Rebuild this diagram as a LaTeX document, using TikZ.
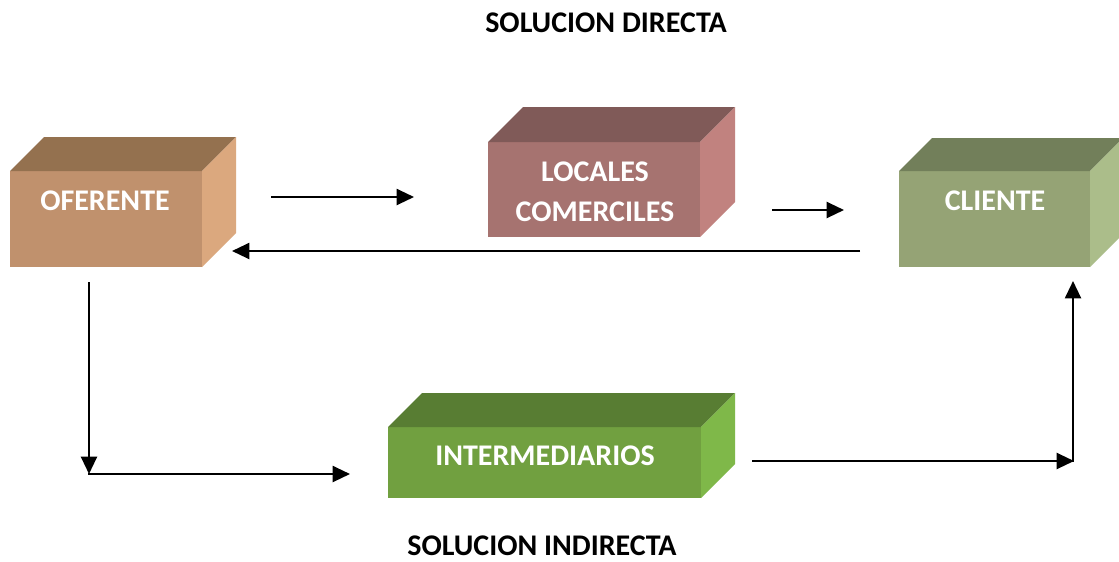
\documentclass[tikz,border=0pt]{standalone}
\usepackage{fontspec}
\setmainfont{Carlito}
\usetikzlibrary{arrows.meta}
\definecolor{ofeF}{HTML}{C0916D}\definecolor{ofeT}{HTML}{94714F}\definecolor{ofeS}{HTML}{DBA87E}
\definecolor{locF}{HTML}{A67370}\definecolor{locT}{HTML}{805A58}\definecolor{locS}{HTML}{C1827F}
\definecolor{cliF}{HTML}{95A375}\definecolor{cliT}{HTML}{727F5A}\definecolor{cliS}{HTML}{ABBD8A}
\definecolor{intF}{HTML}{71A040}\definecolor{intT}{HTML}{587D33}\definecolor{intS}{HTML}{7FB849}
\tikzset{
  face/.style={inner sep=0pt, outer sep=0pt, anchor=north west},
  boxtext/.style={text=white, font=\fontsize{22.5}{30}\selectfont\bfseries, align=center, inner sep=0pt},
  title/.style={text=black, font=\fontsize{22.5}{26}\selectfont\bfseries, inner sep=0pt},
  conn/.style={line width=1.6pt, -{Triangle[length=13pt,width=12pt]}},
}
% #1 name, #2 x, #3 y, #4 width, #5 height, #6 depth, #7 front, #8 top, #9 side
\newcommand\mycuboid[9]{%
  \node[face, fill=#7, minimum width=#4*0.75pt, minimum height=#5*0.75pt] (#1) at (#2,#3) {};
  \fill[#8] (#1.north west) -- ++(#6,-#6) -- ++(#4,0) -- (#1.north east) -- cycle;
  \fill[#9] (#1.north east) -- ++(#6,-#6) -- ++(0,#5) -- (#1.south east) -- cycle;
}
\begin{document}
\begin{tikzpicture}[x=0.75pt,y=-0.75pt]
\useasboundingbox (0,0) rectangle (1119,561);
\clip (0,0) rectangle (1119,561);
\fill[white] (0,0) rectangle (1119,561);

\mycuboid{ofe}{10}{171}{192}{96}{34}{ofeF}{ofeT}{ofeS}
\mycuboid{loc}{488}{142}{212}{95}{35}{locF}{locT}{locS}
\mycuboid{cli}{899}{171}{191}{96}{33}{cliF}{cliT}{cliS}
\mycuboid{int}{388}{427}{313}{71}{34}{intF}{intT}{intS}

\node[boxtext] (tofe) at (105,201) {OFERENTE};
\node[boxtext] (tloc) at (595,192) {LOCALES\\COMERCILES};
\node[boxtext] (tcli) at (995,201) {CLIENTE};
\node[boxtext] (tint) at (545,456) {INTERMEDIARIOS};

\node[title] (t1) at (606,23) {SOLUCION DIRECTA};
\node[title] (t2) at (542,546) {SOLUCION INDIRECTA};

\coordinate (a1s) at (271,197); \coordinate (a1e) at (414,197);
\coordinate (a2s) at (772,210); \coordinate (a2e) at (844,210);
\coordinate (a3s) at (860,251); \coordinate (a3e) at (232,251);
\coordinate (a4s) at (89,282);  \coordinate (a4e) at (89,474);
\coordinate (a5s) at (88,474);  \coordinate (a5e) at (350,474);
\coordinate (a6s) at (752,461); \coordinate (a6e) at (1074,461);
\coordinate (a7s) at (1073,462); \coordinate (a7e) at (1073,281);

\draw[conn] (a1s) -- (a1e);
\draw[conn] (a2s) -- (a2e);
\draw[conn] (a3s) -- (a3e);
\draw[conn] (a4s) -- (a4e);
\draw[conn] (a5s) -- (a5e);
\draw[conn] (a6s) -- (a6e);
\draw[conn] (a7s) -- (a7e);
\end{tikzpicture}
\end{document}
